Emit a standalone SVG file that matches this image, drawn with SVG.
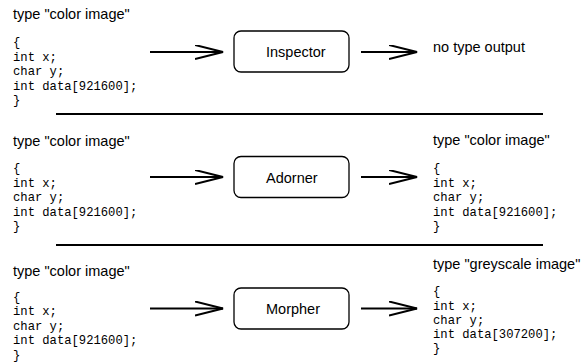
<svg xmlns="http://www.w3.org/2000/svg" width="582" height="362" viewBox="0 0 582 362">
  <style>
    .label { font-family: "Liberation Sans", Arial, sans-serif; font-size: 14.5px; fill: #000; }
    .code { font-family: "Liberation Mono", "Courier New", monospace; font-size: 12.2px; fill: #000; }
    .box { fill: #fff; stroke: #000; stroke-width: 1.3; }
    .conn { stroke: #000; stroke-width: 2; fill: none; }
    .rule { stroke: #000; stroke-width: 2.2; }
  </style>
  <defs>
    <marker id="chevron" markerUnits="userSpaceOnUse" markerWidth="30" markerHeight="16" refX="28" refY="7.5" orient="auto">
      <path d="M0,0.5 L28,7.5 L0,14.5" fill="none" stroke="#000" stroke-width="2"/>
    </marker>
  </defs>

  <rect width="582" height="362" fill="#fff"/>

  <!-- row 1: Inspector -->
  <g id="input-1">
    <text class="label" x="13" y="19">type "color image"</text>
    <text class="code" x="13" y="45.5">{</text>
    <text class="code" x="13" y="60.5">int x;</text>
    <text class="code" x="13" y="75">char y;</text>
    <text class="code" x="13" y="89.5">int data[921600];</text>
    <text class="code" x="13" y="103.5">}</text>
  </g>
  <g id="inspector">
    <rect class="box" x="234" y="31" width="115" height="41" rx="7"/>
    <text class="label" x="266" y="57">Inspector</text>
  </g>
  <g id="output-1">
    <text class="label" x="433" y="52">no type output</text>
  </g>

  <line class="rule" x1="56" y1="114" x2="543" y2="114"/>

  <!-- row 2: Adorner -->
  <g id="input-2">
    <text class="label" x="13" y="146">type "color image"</text>
    <text class="code" x="13" y="171.5">{</text>
    <text class="code" x="13" y="186.5">int x;</text>
    <text class="code" x="13" y="201">char y;</text>
    <text class="code" x="13" y="215.5">int data[921600];</text>
    <text class="code" x="13" y="229.5">}</text>
  </g>
  <g id="adorner">
    <rect class="box" x="234" y="156.5" width="115" height="41" rx="7"/>
    <text class="label" x="266" y="182.5">Adorner</text>
  </g>
  <g id="output-2">
    <text class="label" x="433" y="145">type "color image"</text>
    <text class="code" x="433" y="171.5">{</text>
    <text class="code" x="433" y="186.5">int x;</text>
    <text class="code" x="433" y="201">char y;</text>
    <text class="code" x="433" y="215.5">int data[921600];</text>
    <text class="code" x="433" y="229.5">}</text>
  </g>

  <line class="rule" x1="56" y1="245" x2="543" y2="245"/>

  <!-- row 3: Morpher -->
  <g id="input-3">
    <text class="label" x="13" y="276">type "color image"</text>
    <text class="code" x="13" y="300.5">{</text>
    <text class="code" x="13" y="315">int x;</text>
    <text class="code" x="13" y="329.5">char y;</text>
    <text class="code" x="13" y="344">int data[921600];</text>
    <text class="code" x="13" y="358.5">}</text>
  </g>
  <g id="morpher">
    <rect class="box" x="234" y="288" width="115" height="41" rx="7"/>
    <text class="label" x="266" y="314">Morpher</text>
  </g>
  <g id="output-3">
    <text class="label" x="433" y="269">type "greyscale image"</text>
    <text class="code" x="433" y="295">{</text>
    <text class="code" x="433" y="309.5">int x;</text>
    <text class="code" x="433" y="323.5">char y;</text>
    <text class="code" x="433" y="338">int data[307200];</text>
    <text class="code" x="433" y="352">}</text>
  </g>

  <!-- connectors -->
  <g id="connectors">
    <line class="conn" x1="150" y1="52" x2="223" y2="52" marker-end="url(#chevron)"/>
    <line class="conn" x1="361" y1="52" x2="417" y2="52" marker-end="url(#chevron)"/>
    <line class="conn" x1="150" y1="177" x2="223" y2="177" marker-end="url(#chevron)"/>
    <line class="conn" x1="361" y1="177" x2="417" y2="177" marker-end="url(#chevron)"/>
    <line class="conn" x1="150" y1="308.5" x2="223" y2="308.5" marker-end="url(#chevron)"/>
    <line class="conn" x1="361" y1="308.5" x2="417" y2="308.5" marker-end="url(#chevron)"/>
  </g>
</svg>
